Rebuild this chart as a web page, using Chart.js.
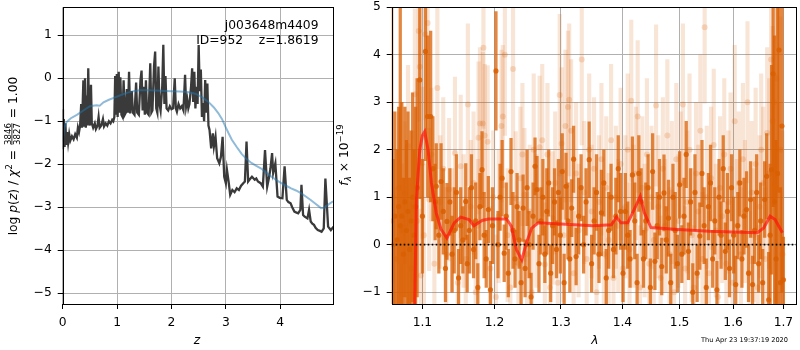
<!DOCTYPE html>
<html>
<head>
<meta charset="utf-8">
<script src="https://cdn.jsdelivr.net/npm/chart.js@4"></script>
<style>
  body { margin:0; background:#fff; }
  #wrap { position:relative; width:800px; height:350px; }
  canvas { position:absolute; top:0; }
</style>
</head>
<body>
<div id="wrap">
  <canvas id="pzChart" width="340" height="350" style="left:0"></canvas>
  <canvas id="specChart" width="470" height="350" style="left:330px"></canvas>
</div>
<script>
/* left panel: redshift probability */
const zLine = [0.00,0.005,0.02,0.035,0.05,0.065,0.08,0.10,0.12,0.14,0.17,0.20,0.23,0.26,0.28,0.30,0.32,0.34,0.355,0.38,0.395,0.41,0.425,0.44,0.455,0.47,0.485,0.50,0.52,0.535,0.56,0.59,0.61,0.64,0.66,0.68,0.71,0.74,0.76,0.79,0.82,0.85,0.88,0.91,0.93,0.95,0.965,0.98,0.995,1.01,1.03,1.045,1.06,1.08,1.10,1.12,1.14,1.16,1.18,1.20,1.22,1.24,1.27,1.29,1.32,1.35,1.37,1.40,1.43,1.45,1.47,1.49,1.51,1.53,1.55,1.58,1.61,1.63,1.65,1.68,1.70,1.72,1.74,1.76,1.78,1.80,1.83,1.85,1.87,1.89,1.91,1.94,1.97,2.00,2.03,2.06,2.08,2.10,2.13,2.16,2.19,2.22,2.25,2.27,2.29,2.31,2.33,2.36,2.38,2.40,2.42,2.44,2.46,2.48,2.50,2.52,2.54,2.56,2.58,2.60,2.62,2.64,2.66,2.68,2.70,2.73,2.76,2.78,2.81,2.84,2.88,2.91,2.94,2.97,3.00,3.02,3.05,3.08,3.12,3.16,3.20,3.24,3.28,3.32,3.35,3.38,3.41,3.44,3.48,3.53,3.56,3.59,3.64,3.68,3.72,3.76,3.79,3.82,3.85,3.87,3.91,3.95,3.99,4.04,4.08,4.12,4.15,4.19,4.22,4.26,4.29,4.33,4.37,4.39,4.42,4.45,4.50,4.53,4.56,4.59,4.62,4.65,4.69,4.73,4.76,4.80,4.83,4.88,4.93,4.98];
const logpLine = [-0.72,-1.65,-0.95,-1.6,-1.05,-1.55,-1.25,-1.5,-1.3,-1.45,-1.35,-1.42,-1.3,-1.38,-1.15,-1.25,-1.1,-0.6,-1.15,-0.05,-1.1,0.0,-1.15,-0.4,-1.1,0.23,-0.9,-1.1,-0.15,-1.05,-1.15,-1.05,-1.18,-1.1,-0.9,-1.15,-1.1,-0.95,-1.12,-1.05,-1.1,-1.0,-1.05,-0.97,-1.0,-0.9,0.05,-0.85,0.1,-0.9,0.15,-0.8,0.02,-0.85,-0.9,-0.05,-0.85,-0.8,-0.25,-0.8,0.15,-0.82,-0.3,-0.8,-0.85,-0.1,-0.8,-0.85,-0.05,0.18,-0.75,-0.2,-0.85,-0.05,-0.8,-0.85,0.35,-0.8,-0.75,0.3,0.62,-0.7,-0.8,0.27,-0.6,-0.75,-0.2,0.78,-0.6,0.05,-0.7,-0.75,-0.65,-0.72,-0.7,0.0,-0.7,-0.78,-0.6,-0.7,-0.65,-0.75,0.08,-0.65,-0.5,-0.7,-0.6,-0.2,0.23,-0.55,0.15,-0.7,-0.2,-0.6,0.77,-0.3,0.2,-0.9,-0.58,-1.0,-0.04,-0.8,-0.12,-1.1,-1.2,-1.63,-1.28,-1.59,-1.36,-1.86,-1.98,-1.82,-1.36,-2.29,-2.44,-2.13,-2.40,-2.71,-2.60,-2.65,-2.56,-2.6,-2.5,-2.44,-2.40,-1.47,-2.40,-2.35,-2.29,-2.36,-2.33,-2.4,-2.44,-2.52,-1.67,-2.52,-2.33,-2.1,-1.74,-2.2,-1.98,-2.75,-2.78,-2.79,-2.05,-2.83,-2.88,-2.91,-3.0,-3.10,-3.12,-3.14,-3.06,-2.48,-3.18,-3.22,-3.26,-3.06,-3.33,-3.38,-3.41,-3.48,-3.53,-3.55,-3.57,-3.49,-2.33,-3.45,-3.53,-3.45,-3.45];
const zSmooth = [0.00,0.03,0.07,0.15,0.26,0.38,0.50,0.62,0.68,0.75,0.85,0.95,1.05,1.18,1.30,1.42,1.60,1.80,2.00,2.15,2.30,2.44,2.56,2.68,2.78,2.86,2.93,2.99,3.05,3.11,3.20,3.29,3.38,3.47,3.56,3.65,3.75,3.84,3.93,4.02,4.11,4.20,4.29,4.38,4.47,4.56,4.66,4.75,4.81,4.87,4.97];
const logpSmooth = [-1.45,-1.15,-1.02,-0.93,-0.85,-0.75,-0.65,-0.63,-0.64,-0.56,-0.5,-0.45,-0.4,-0.34,-0.3,-0.28,-0.28,-0.29,-0.3,-0.31,-0.32,-0.36,-0.44,-0.55,-0.68,-0.81,-0.95,-1.12,-1.28,-1.43,-1.6,-1.76,-1.88,-1.97,-2.04,-2.1,-2.2,-2.29,-2.37,-2.44,-2.5,-2.56,-2.61,-2.67,-2.75,-2.83,-2.93,-3.02,-3.01,-2.95,-2.86];
const zTicks = [0, 1, 2, 3, 4];
const logpTicks = [-5, -4, -3, -2, -1, 0, 1];

/* right panel: spectrum */
const darkLam = [1.060,1.062,1.064,1.067,1.069,1.071,1.073,1.075,1.077,1.079,1.081,1.083,1.085,1.087,1.089,1.091,1.093,1.0965,1.100,1.104,1.107,1.111,1.114,1.117,1.1185,1.122,1.125,1.128,1.131,1.133,1.137,1.140,1.143,1.146,1.149,1.152,1.155,1.159,1.161,1.164,1.167,1.170,1.173,1.176,1.179,1.182,1.185,1.188,1.191,1.194,1.197,1.202,1.205,1.208,1.211,1.214,1.217,1.220,1.224,1.227,1.230,1.233,1.236,1.239,1.242,1.245,1.248,1.251,1.254,1.257,1.260,1.263,1.266,1.269,1.272,1.275,1.278,1.281,1.284,1.287,1.290,1.293,1.296,1.299,1.302,1.305,1.308,1.311,1.314,1.317,1.320,1.324,1.328,1.332,1.336,1.340,1.345,1.349,1.353,1.357,1.361,1.365,1.369,1.373,1.377,1.381,1.385,1.389,1.393,1.397,1.401,1.405,1.409,1.413,1.417,1.421,1.425,1.428,1.432,1.436,1.440,1.444,1.448,1.452,1.456,1.460,1.464,1.468,1.472,1.476,1.480,1.484,1.488,1.492,1.496,1.500,1.504,1.508,1.512,1.516,1.520,1.524,1.528,1.532,1.537,1.541,1.545,1.549,1.553,1.557,1.561,1.565,1.569,1.573,1.577,1.581,1.585,1.589,1.593,1.597,1.601,1.605,1.609,1.613,1.617,1.621,1.626,1.630,1.634,1.638,1.642,1.646,1.650,1.654,1.658,1.662,1.666,1.670,1.673,1.676,1.679,1.682,1.685,1.688,1.691,1.694,1.697,1.700];
const darkFlux = [0.5,0.0,0.6,0.1,0.8,0.4,0.6,-0.2,0.9,0.3,0.7,-0.1,0.5,1.0,0.2,0.8,1.2,3.47,0.6,4.07,2.7,2.7,1.6,0.9,1.23,0.2,1.33,0.7,-0.5,0.49,0.9,-0.2,0.3,1.1,-0.7,0.4,0.1,0.91,-0.4,0.3,1.2,-0.1,0.5,-0.9,0.8,1.58,0.2,-0.3,0.74,-0.95,0.4,3.66,0.0,1.0,1.4,-0.18,0.6,-0.6,1.54,0.3,-0.3,0.8,0.1,-0.8,0.77,-0.5,1.2,0.0,-1.1,0.6,1.65,1.16,-0.4,0.5,1.0,-0.2,0.7,1.3,-0.6,0.4,0.9,-0.1,1.1,0.2,1.54,-0.8,1.23,0.5,-0.3,0.77,1.8,-0.25,0.6,1.2,0.0,0.9,1.79,-0.4,0.5,1.1,-0.2,0.67,1.3,-0.7,0.3,1.0,-0.1,0.6,1.6,0.7,-0.6,0.7,0.2,-0.3,1.47,0.5,-0.8,1.5,0.9,-0.3,0.5,1.2,-0.9,1.54,-0.35,0.4,1.0,-0.46,1.09,0.1,0.56,-0.8,1.0,0.3,-0.4,1.26,-0.2,0.6,1.9,-0.14,0.9,-1.0,1.1,-0.6,0.18,1.5,0.4,-0.9,0.8,1.3,-0.3,0.5,-0.95,1.0,0.2,1.6,-0.14,0.7,-0.5,1.2,0.2,-0.84,0.4,1.3,-0.3,0.6,0.74,-0.6,0.95,-0.84,0.3,1.1,-0.4,0.5,-0.8,0.95,1.44,-1.16,0.2,1.58,3.6,0.9,-0.3,1.5,4.1,-0.8,2.5,-0.74];
const darkErr = [5.0,1.8,2.2,1.9,2.1,5.0,2.4,1.6,2.0,1.9,2.1,1.5,1.9,2.2,1.8,2.1,2.3,2.5,1.2,2.3,1.7,1.8,1.1,0.8,0.9,0.8,0.8,0.9,0.7,0.8,0.7,0.8,0.9,0.8,0.6,0.8,0.7,0.8,0.6,0.9,0.7,0.6,0.8,0.5,0.7,0.8,0.9,0.6,0.7,0.6,0.8,1.25,0.7,0.7,0.8,0.6,0.7,0.5,0.7,0.8,0.6,0.7,0.6,0.5,0.7,0.6,0.8,0.7,0.5,0.7,0.6,0.7,0.6,0.7,0.8,0.6,0.9,0.7,0.6,0.8,0.7,0.6,0.7,0.8,0.8,0.6,0.7,0.8,0.7,0.6,0.7,0.6,0.8,0.7,0.6,0.7,0.8,0.6,0.7,0.8,0.6,0.9,0.7,0.6,0.8,0.7,0.6,0.8,0.7,0.8,0.6,0.8,0.7,0.6,0.8,0.8,0.6,0.8,0.7,0.6,0.8,0.7,0.6,0.8,0.6,0.7,0.8,0.6,0.8,0.7,0.8,0.6,0.7,0.8,0.6,0.7,0.6,0.8,0.7,0.6,0.7,0.6,0.8,0.6,0.7,0.7,0.8,0.6,0.7,0.8,0.6,0.7,0.6,0.8,0.7,0.7,0.6,0.8,0.6,0.7,0.8,0.6,0.7,0.7,0.6,0.8,0.8,0.6,0.8,0.6,0.7,0.8,0.6,0.8,0.7,0.8,0.9,1.0,1.5,2.2,2.8,3.5,2.5,4.0,3.0,2.0,3.5,0.9];

const lightLam = [1.061,1.065,1.069,1.073,1.077,1.081,1.085,1.088,1.090,1.093,1.095,1.0965,1.098,1.100,1.102,1.104,1.107,1.109,1.112,1.116,1.120,1.124,1.128,1.132,1.136,1.140,1.144,1.148,1.152,1.156,1.159,1.162,1.166,1.170,1.173,1.176,1.177,1.179,1.183,1.184,1.186,1.190,1.194,1.198,1.202,1.206,1.210,1.212,1.215,1.219,1.223,1.227,1.231,1.235,1.238,1.241,1.244,1.248,1.252,1.255,1.258,1.262,1.267,1.271,1.275,1.279,1.283,1.287,1.291,1.295,1.298,1.301,1.304,1.307,1.311,1.313,1.316,1.320,1.324,1.328,1.333,1.337,1.341,1.345,1.349,1.353,1.357,1.361,1.365,1.369,1.373,1.377,1.381,1.385,1.389,1.393,1.397,1.401,1.405,1.409,1.412,1.415,1.419,1.423,1.426,1.430,1.434,1.438,1.442,1.446,1.450,1.454,1.458,1.462,1.466,1.470,1.474,1.478,1.482,1.486,1.490,1.494,1.498,1.502,1.506,1.510,1.514,1.518,1.522,1.526,1.530,1.534,1.538,1.542,1.546,1.550,1.554,1.558,1.563,1.567,1.571,1.575,1.579,1.583,1.587,1.591,1.595,1.599,1.603,1.607,1.611,1.615,1.619,1.623,1.628,1.632,1.636,1.640,1.644,1.648,1.652,1.655,1.659,1.663,1.667,1.671,1.675,1.678,1.681,1.684,1.686,1.690,1.694,1.698];
const lightFlux = [1.0,-0.3,1.2,0.3,1.09,2.08,-0.5,0.8,3.17,0.5,4.5,3.75,-0.65,1.72,0.2,4.43,4.67,0.95,1.9,-0.4,3.3,0.9,1.6,-0.2,1.16,0.3,1.93,-0.8,1.65,0.5,-0.3,2.95,0.8,1.3,-1.0,0.4,2.25,2.55,2.55,4.15,2.3,2.17,-0.5,1.0,-1.1,0.6,2.5,2.7,4.0,0.2,-0.9,3.7,0.98,-0.4,1.4,1.9,1.05,-0.2,0.7,-1.0,2.0,0.5,2.05,2.2,-0.42,1.9,-0.9,0.56,1.3,-0.8,3.15,2.13,0.2,2.5,2.9,3.05,2.4,-0.6,1.5,0.3,3.9,1.1,-0.3,2.0,0.7,1.6,-1.0,0.9,1.8,-0.2,1.2,0.1,2.2,-0.7,1.0,0.4,1.7,-0.5,0.8,2.0,-0.1,3.03,0.6,1.5,2.7,-0.9,1.2,0.3,1.9,-0.4,1.0,0.1,2.93,0.8,-0.7,1.6,0.4,2.3,-0.2,1.1,-1.0,1.8,0.5,1.3,2.95,-0.5,0.9,2.0,0.2,-0.9,1.5,0.7,2.4,-0.3,4.58,1.0,-0.6,1.4,2.1,0.3,-1.1,1.2,0.6,1.9,-0.4,0.9,1.6,-0.8,2.6,0.4,1.3,-0.2,1.8,0.7,3.0,-0.6,1.1,0.2,1.7,-0.9,0.8,2.0,1.3,-0.3,2.35,1.5,3.9,2.6,3.0,1.2,3.5,0.5,2.0,-0.2];
const lightErr = [1.8,1.5,1.6,1.4,1.5,1.7,1.4,1.6,1.8,1.5,1.9,1.8,1.4,1.6,1.5,1.8,2.0,1.5,1.4,1.3,1.7,1.4,1.5,1.4,1.5,1.3,1.6,1.3,1.5,1.4,1.3,1.7,1.4,1.5,1.3,1.4,1.6,1.6,1.5,1.7,1.5,1.6,1.3,1.4,1.3,1.4,1.6,1.5,1.7,1.4,1.3,1.7,1.4,1.3,1.5,1.5,1.4,1.3,1.4,1.3,1.6,1.4,1.5,1.6,1.3,1.5,1.3,1.4,1.5,1.3,1.7,1.6,1.4,1.6,1.6,1.6,1.5,1.3,1.5,1.4,1.8,1.5,1.3,1.6,1.4,1.5,1.3,1.4,1.6,1.4,1.5,1.4,1.6,1.3,1.5,1.4,1.6,1.3,1.5,1.6,1.4,1.7,1.5,1.4,1.6,1.3,1.5,1.4,1.6,1.3,1.5,1.4,1.7,1.5,1.3,1.5,1.4,1.6,1.4,1.5,1.3,1.6,1.4,1.5,1.7,1.3,1.5,1.6,1.4,1.3,1.5,1.4,1.6,1.4,1.6,1.5,1.3,1.5,1.6,1.4,1.3,1.5,1.4,1.6,1.3,1.5,1.6,1.3,1.6,1.4,1.5,1.4,1.6,1.5,1.7,1.3,1.5,1.4,1.6,1.3,1.5,1.6,1.6,1.5,1.8,2.0,2.2,2.0,2.2,2.4,2.5,2.5,2.8,2.6];

const modelLam = [1.082,1.0895,1.0921,1.0965,1.100,1.103,1.1075,1.112,1.1185,1.125,1.133,1.143,1.152,1.1635,1.1705,1.182,1.1915,1.2175,1.2245,1.232,1.240,1.247,1.255,1.265,1.351,1.3815,1.390,1.3975,1.409,1.420,1.4305,1.4375,1.449,1.4965,1.5545,1.6475,1.660,1.673,1.683,1.698];
const modelFlux = [-4.0,-1.5,0.95,2.0,2.3,2.38,2.0,1.3,0.67,0.32,0.14,0.46,0.58,0.53,0.4,0.51,0.54,0.54,0.39,-0.1,-0.32,0.04,0.35,0.46,0.4,0.42,0.58,0.46,0.46,0.74,1.02,0.67,0.36,0.32,0.28,0.25,0.35,0.6,0.53,0.25];
const lamRange = [1.06, 1.726];
const lamTicks = [1.1, 1.2, 1.3, 1.4, 1.5, 1.6, 1.7];
const fluxTicks = [-1, 0, 1, 2, 3, 4, 5];

const FONT = 'DejaVu Sans';
const tickFont = { family: FONT, size: 12.3 };
const minus = v => String(v).replace('-', '\u2212');

/* black box round the plot area */
const framePlugin = {
  id: 'frame',
  afterDraw(chart) {
    const a = chart.chartArea, ctx = chart.ctx;
    ctx.save();
    ctx.strokeStyle = '#000';
    ctx.lineWidth = 1;
    ctx.strokeRect(Math.round(a.left) + 0.5, Math.round(a.top) + 0.5,
      Math.round(a.right - a.left), Math.round(a.bottom - a.top));
    ctx.restore();
  }
};

/* draw a run of text pieces (mathtext-ish), optionally rotated */
function drawPieces(ctx, pieces, cx, cy, rotate) {
  ctx.save();
  ctx.translate(cx, cy);
  if (rotate) ctx.rotate(-Math.PI / 2);
  ctx.fillStyle = '#000';
  ctx.textBaseline = 'alphabetic';
  let widths = pieces.map(p => {
    ctx.font = p.font;
    if (p.frac) return Math.max(ctx.measureText(p.frac[0]).width, ctx.measureText(p.frac[1]).width) + 2;
    return ctx.measureText(p.text).width;
  });
  let x = -widths.reduce((s, w) => s + w, 0) / 2;
  pieces.forEach((p, i) => {
    ctx.font = p.font;
    if (p.frac) {
      const w = widths[i];
      ctx.textAlign = 'center';
      ctx.fillText(p.frac[0], x + w / 2, -1.5);
      ctx.fillText(p.frac[1], x + w / 2, 7.5);
      ctx.fillRect(x + 1, -0.5, w - 2, 0.8);
      ctx.textAlign = 'left';
    } else {
      ctx.textAlign = 'left';
      ctx.fillText(p.text, x, p.dy || 0);
    }
    x += widths[i];
  });
  ctx.restore();
}

const R = '12.3px "' + FONT + '"';
const I = 'italic 12.3px "' + FONT + '"';
const S = '8.6px "' + FONT + '"';
const SI = 'italic 8.6px "' + FONT + '"';

const pzText = {
  id: 'pzText',
  afterDraw(chart) {
    const ctx = chart.ctx;
    drawPieces(ctx, [
      { text: 'log ', font: R, dy: 4.5 }, { text: 'p', font: I, dy: 4.5 }, { text: '(', font: R, dy: 4.5 },
      { text: 'z', font: I, dy: 4.5 }, { text: ')', font: R, dy: 4.5 }, { text: ' / ', font: R, dy: 4.5 },
      { text: '\u03c7', font: I, dy: 4.5 }, { text: '2', font: S, dy: -0.5 }, { text: ' = ', font: R, dy: 4.5 },
      { frac: ['3846', '3827'], font: S }, { text: ' = 1.00', font: R, dy: 4.5 }
    ], 12, 156, true);
    ctx.save();
    ctx.fillStyle = '#000';
    ctx.font = I;
    ctx.textAlign = 'center';
    ctx.fillText('z', 197, 344);
    ctx.font = R;
    ctx.textAlign = 'right';
    ctx.fillText('j003648m4409', 318.5, 28.5);
    ctx.fillText('ID=952    z=1.8619', 318.5, 44);
    ctx.restore();
  }
};

const specText = {
  id: 'specText',
  afterDraw(chart) {
    const ctx = chart.ctx;
    drawPieces(ctx, [
      { text: 'f', font: I, dy: 4.5 }, { text: '\u03bb', font: SI, dy: 7.5 },
      { text: ' \u00d7 10', font: R, dy: 4.5 }, { text: '\u221219', font: S, dy: -0.5 }
    ], 13, 155, true);
    ctx.save();
    ctx.fillStyle = '#000';
    ctx.font = I;
    ctx.textAlign = 'center';
    ctx.fillText('\u03bb', 265, 344);
    ctx.font = '6.6px "' + FONT + '"';
    ctx.textAlign = 'right';
    ctx.fillText('Thu Apr 23 19:37:19 2020', 458, 341.5);
    ctx.restore();
  }
};

function gridOpts() {
  return { color: '#b0b0b0', lineWidth: 1, tickColor: '#000', tickLength: 5, offset: false };
}
// drop the label overhang padding so the plot box sits where the layout padding says
function noPad(s) { s.paddingTop = 0; s.paddingBottom = 0; s.paddingLeft = 0; s.paddingRight = 0; }

new Chart(document.getElementById('pzChart'), {
  type: 'line',
  data: {
    datasets: [
      { data: zSmooth.map((z, i) => ({ x: z, y: logpSmooth[i] })),
        borderColor: 'rgba(31,119,180,0.5)', borderWidth: 2, pointRadius: 0, order: 1 },
      { data: zLine.map((z, i) => ({ x: z, y: logpLine[i] })),
        borderColor: '#3a3a3a', borderWidth: 2.3, pointRadius: 0, order: 2 }
    ]
  },
  options: {
    responsive: false, animation: false,
    layout: { padding: { left: 0, right: 7, top: 7.3, bottom: 0 } },
    plugins: { legend: { display: false }, tooltip: { enabled: false } },
    scales: {
      x: {
        type: 'linear', min: 0, max: 4.97,
        afterBuildTicks: s => { s.ticks = zTicks.map(v => ({ value: v })); },
        afterFit: s => { s.height = 46; noPad(s); },
        grid: gridOpts(), border: { display: false },
        ticks: { font: tickFont, color: '#000', padding: 6, maxRotation: 0, callback: v => minus(v) }
      },
      y: {
        type: 'linear', min: -5.25, max: 1.65,
        afterBuildTicks: s => { s.ticks = logpTicks.map(v => ({ value: v })); },
        afterFit: s => { s.width = 62.7; noPad(s); },
        grid: gridOpts(), border: { display: false },
        ticks: { font: tickFont, color: '#000', padding: 6, callback: v => minus(v) }
      }
    }
  },
  plugins: [framePlugin, pzText]
});

const errData = (lam, f, e) => lam.map((x, i) => ({ x: x, y: [f[i] - e[i], f[i] + e[i]] }));
const ptData = (lam, f) => lam.map((x, i) => ({ x: x, y: f[i] }));

new Chart(document.getElementById('specChart'), {
  type: 'scatter',
  data: {
    datasets: [
      { type: 'bar', data: errData(lightLam, lightFlux, lightErr), stack: 'err',
        backgroundColor: 'rgba(217,95,2,0.16)', borderWidth: 0, barThickness: 3.5, order: 6 },
      { type: 'scatter', data: ptData(lightLam, lightFlux),
        backgroundColor: 'rgba(217,95,2,0.2)', borderWidth: 0, pointRadius: 3, order: 5 },
      { type: 'bar', data: errData(darkLam, darkFlux, darkErr), stack: 'err',
        backgroundColor: 'rgba(217,95,2,0.75)', borderWidth: 0, barThickness: 2.6, order: 4 },
      { type: 'scatter', data: ptData(darkLam, darkFlux),
        backgroundColor: 'rgba(217,95,2,0.85)', borderWidth: 0, pointRadius: 2.6, order: 3 },
      { type: 'line', data: ptData(modelLam, modelFlux),
        borderColor: 'rgba(255,20,10,0.7)', borderWidth: 3, pointRadius: 0, order: 2 },
      { type: 'line', data: lamRange.map(x => ({ x: x, y: 0 })),
        borderColor: '#000', borderWidth: 1.6, borderDash: [1.6, 2.4], pointRadius: 0, order: 1 }
    ]
  },
  options: {
    responsive: false, animation: false,
    layout: { padding: { left: 0, right: 1, top: 7.3, bottom: 0 } },
    plugins: { legend: { display: false }, tooltip: { enabled: false } },
    scales: {
      x: {
        type: 'logarithmic', min: lamRange[0], max: lamRange[1], offset: false,
        afterBuildTicks: s => { s.ticks = lamTicks.map(v => ({ value: v })); },
        afterFit: s => { s.height = 46; noPad(s); },
        grid: gridOpts(), border: { display: false },
        ticks: { font: tickFont, color: '#000', padding: 6, maxRotation: 0, autoSkip: false, callback: v => Number(v).toFixed(1) }
      },
      y: {
        type: 'linear', min: -1.25, max: 5, stacked: false,
        afterBuildTicks: s => { s.ticks = fluxTicks.map(v => ({ value: v })); },
        afterFit: s => { s.width = 61.7; noPad(s); },
        grid: gridOpts(), border: { display: false },
        ticks: { font: tickFont, color: '#000', padding: 6, callback: v => minus(v) }
      }
    }
  },
  plugins: [framePlugin, specText]
});
</script>
</body>
</html>
